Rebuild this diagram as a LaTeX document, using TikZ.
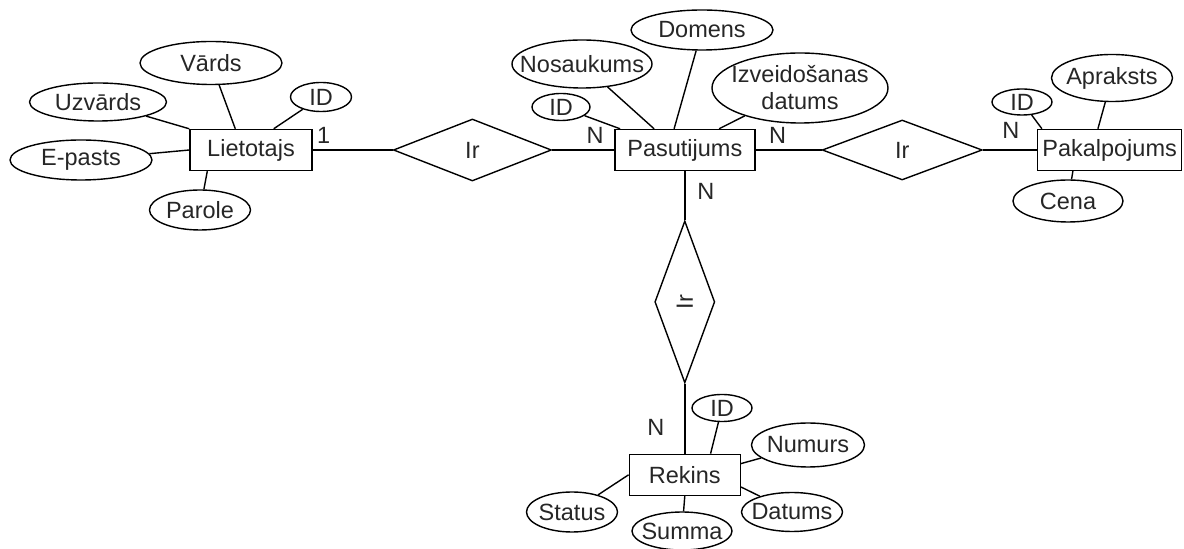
\documentclass[tikz,border=0pt]{standalone}
\usepackage{fontspec}
\setmainfont{Liberation Sans}
\usetikzlibrary{positioning, shapes.geometric}

\begin{document}
\begin{tikzpicture}[
  x=0.5pt, y=-0.5pt,
  font=\fontsize{11.75}{13.5}\selectfont,
  line width=0.7pt,
  every node/.style={text=black!85},
  entity/.style={draw, rectangle, inner sep=2pt,
                 minimum width=#1, minimum height=20.5pt},
  rel/.style 2 args={draw, diamond, inner sep=0pt,
                     minimum width=#1, minimum height=#2},
  attr/.style 2 args={draw, ellipse, inner sep=0pt,
                      minimum width=#1, minimum height=#2},
  card/.style={inner sep=0pt}
]
\useasboundingbox (0,0) rectangle (1184,549);

% entities and relations
\node[entity=61pt] (liet) at (251,150) {Lietotajs};
\node[rel={79pt}{31pt}, right=40pt of liet] (ir1) {Ir};
\node[entity=70pt, right=31pt of ir1] (pas) {Pasutijums};
\node[rel={80pt}{30pt}, right=33pt of pas] (ir2) {Ir};
\node[entity=72pt, right=27pt of ir2] (pak) {Pakalpojums};
\node[rel={30pt}{81pt}, below=24.5pt of pas] (ir3) {\rotatebox{90}{Ir}};
\node[entity=55.5pt, below=35pt of ir3] (rek) {Rekins};

\draw (liet) -- (ir1) -- (pas) -- (ir2) -- (pak);
\draw (pas) -- (ir3) -- (rek);

% cardinalities
\node[card] (c1) at ([xshift=5.5pt, yshift=7.5pt]liet.east) {1};
\node[card] (c2) at ([xshift=-9.5pt, yshift=7.5pt]pas.west) {N};
\node[card] (c3) at ([xshift=11pt, yshift=7.5pt]pas.east) {N};
\node[card] (c4) at ([xshift=-13pt, yshift=10pt]pak.west) {N};
\node[card] (c5) at ([xshift=10.5pt, yshift=-10pt]pas.south) {N};
\node[card] (c6) at ([xshift=-14.5pt, yshift=13pt]rek.north) {N};

% Lietotajs attributes
\node[attr={71pt}{21.5pt}, label=center:Vārds] (lvards) at (211,63) {};
\node[attr={68.5pt}{19pt}, label=center:Uzvārds] (luzv) at (98,102) {};
\node[attr={30.5pt}{14.5pt}, label=center:ID] (lid) at (321,97) {};
\node[attr={71pt}{20pt}, label=center:E-pasts] (lepasts) at (81,160) {};
\node[attr={50.5pt}{20pt}, label=center:Parole] (lparole) at (200,210) {};
\draw (lvards) -- ([xshift=23pt]liet.north west);
\draw (luzv) -- (liet.north west);
\draw (lid) -- ([xshift=-19.5pt]liet.north east);
\draw (lepasts) -- (liet.west);
\draw (lparole) -- ([xshift=9pt]liet.south west);

% Pasutijums attributes
\node[attr={29pt}{13.5pt}, label=center:ID] (pid) at (561,107) {};
\node[attr={70pt}{24pt}, label=center:Nosaukums] (pnos) at (582,64) {};
\node[attr={71pt}{20pt}, label=center:Domens] (pdom) at (702,30) {};
\node[attr={88pt}{35pt},
      label={[align=center]center:Izveidošanas\\datums}] (pizv) at (800,88) {};
\draw (pid) -- ([xshift=3pt]pas.north west);
\draw (pnos) -- ([xshift=20pt]pas.north west);
\draw (pdom) -- ([xshift=30pt]pas.north west);
\draw (pizv) -- ([xshift=52.5pt]pas.north west);

% Pakalpojums attributes
\node[attr={30pt}{13pt}, label=center:ID] (kid) at (1022,102) {};
\node[attr={60.5pt}{23.5pt}, label=center:Apraksts] (kapr) at (1112,78) {};
\node[attr={55pt}{21pt}, label=center:Cena] (kcena) at (1068,201) {};
\draw (kid) -- ([xshift=2.5pt]pak.north west);
\draw (kapr) -- ([xshift=30.5pt]pak.north west);
\draw (kcena) -- ([xshift=18pt]pak.south west);

% Rekins attributes
\node[attr={30pt}{13.5pt}, label=center:ID] (rid) at (722,408) {};
\node[attr={56.5pt}{22pt}, label=center:Numurs] (rnum) at (808,445) {};
\node[attr={50.5pt}{19.5pt}, label=center:Datums] (rdat) at (792,512) {};
\node[attr={50pt}{19pt}, label=center:Summa] (rsum) at (682,531) {};
\node[attr={45.5pt}{20pt}, label=center:Status] (rstat) at (572,512) {};
\draw (rid) -- ([xshift=41pt]rek.north west);
\draw (rnum) -- ([yshift=-5pt]rek.north east);
\draw (rdat) -- ([yshift=4.5pt]rek.south east);
\draw (rsum) -- (rek.south);
\draw (rstat) -- (rek.west);
\end{tikzpicture}
\end{document}
